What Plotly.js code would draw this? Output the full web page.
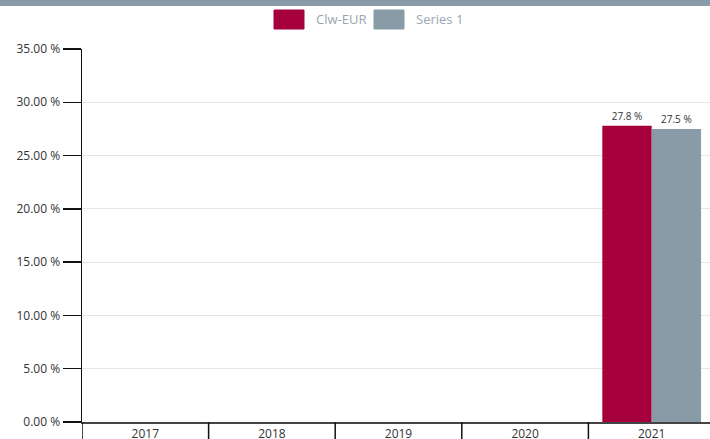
<!DOCTYPE html>
<html><head><meta charset="utf-8">
<script src="https://cdn.plot.ly/plotly-3.0.1.min.js"></script>
<style>html,body{margin:0;padding:0;overflow:hidden;background:#fff;width:710px;height:439px}</style>
</head><body><div id="chart"></div>
<script>
const categories = ['2017','2018','2019','2020','2021'];
const seriesNames = ['Clw-EUR','Series 1'];
const clwValues = [null,null,null,null,27.8];
const series1Values = [null,null,null,null,27.5];
const seriesColors = ['#a6003c','#8a9ba8'];
const yTicks = [0,5,10,15,20,25,30,35];

const font = "'Open Sans', 'Noto Sans', sans-serif";
const traces = [clwValues, series1Values].map((vals,i)=>({
  type:'bar', x:categories, y:vals, name:seriesNames[i],
  marker:{color:seriesColors[i]},
  text: vals.map(v=> v==null ? '' : v.toFixed(1)+' %'),
  textposition:'outside', cliponaxis:false,
  textfont:{family:font,size:10,color:'#333'},
  showlegend:false, hoverinfo:'x+y'
}));

const plotH = 373, plotW = 633, ml = 82, mt = 49;
const px = v => (v-ml)/plotW;
const py = v => (mt+plotH-v)/plotH;

const shapes = [];
// top band
shapes.push({type:'rect',xref:'paper',yref:'paper',x0:-0.2,x1:1.2,y0:py(6),y1:py(-2),fillcolor:'#8a9ba8',line:{width:0},layer:'above'});
// category boundary ticks
for(let i=0;i<=categories.length;i++){
  shapes.push({type:'line',xref:'x',yref:'paper',x0:i-0.5,x1:i-0.5,y0:0,y1:-0.06,line:{color:'#111',width:1.5},layer:'above'});
}
// custom legend
const annotations = [];
const legendX = [274,374];
seriesNames.forEach((n,i)=>{
  shapes.push({type:'rect',xref:'paper',yref:'paper',x0:px(legendX[i]),x1:px(legendX[i]+30),y0:py(29),y1:py(10),fillcolor:seriesColors[i],line:{color:seriesColors[i],width:1}});
  annotations.push({xref:'paper',yref:'paper',x:px(legendX[i]+40),y:py(19),xanchor:'left',yanchor:'middle',text:n,showarrow:false,font:{family:font,size:13,color:'#9aa6b0'}});
});

const layout = {
  width:720, height:439,
  margin:{l:ml,r:5,t:mt,b:17,pad:0},
  paper_bgcolor:'#fff', plot_bgcolor:'#fff',
  barmode:'group', bargap:0.22, bargroupgap:0,
  showlegend:false,
  font:{family:font,size:12,color:'#333'},
  xaxis:{type:'category',categoryarray:categories,range:[-0.5,4.5],showgrid:false,
    showline:true,linecolor:'#444',linewidth:1.5,ticks:'',ticklen:0,
    tickfont:{family:font,size:12,color:'#333'},fixedrange:true,zeroline:false},
  yaxis:{range:[0,35],tickvals:yTicks,ticktext:yTicks.map(v=>v.toFixed(2)+' %'),
    showgrid:true,gridcolor:'#e6e6e6',gridwidth:1,
    showline:true,linecolor:'#111',linewidth:1.5,ticks:'outside',ticklen:18,tickwidth:1.5,tickcolor:'#111',
    tickfont:{family:font,size:12,color:'#333'},zeroline:false,fixedrange:true},
  shapes:shapes, annotations:annotations
};
Plotly.newPlot('chart',traces,layout,{displayModeBar:false,staticPlot:true});
</script></body></html>
